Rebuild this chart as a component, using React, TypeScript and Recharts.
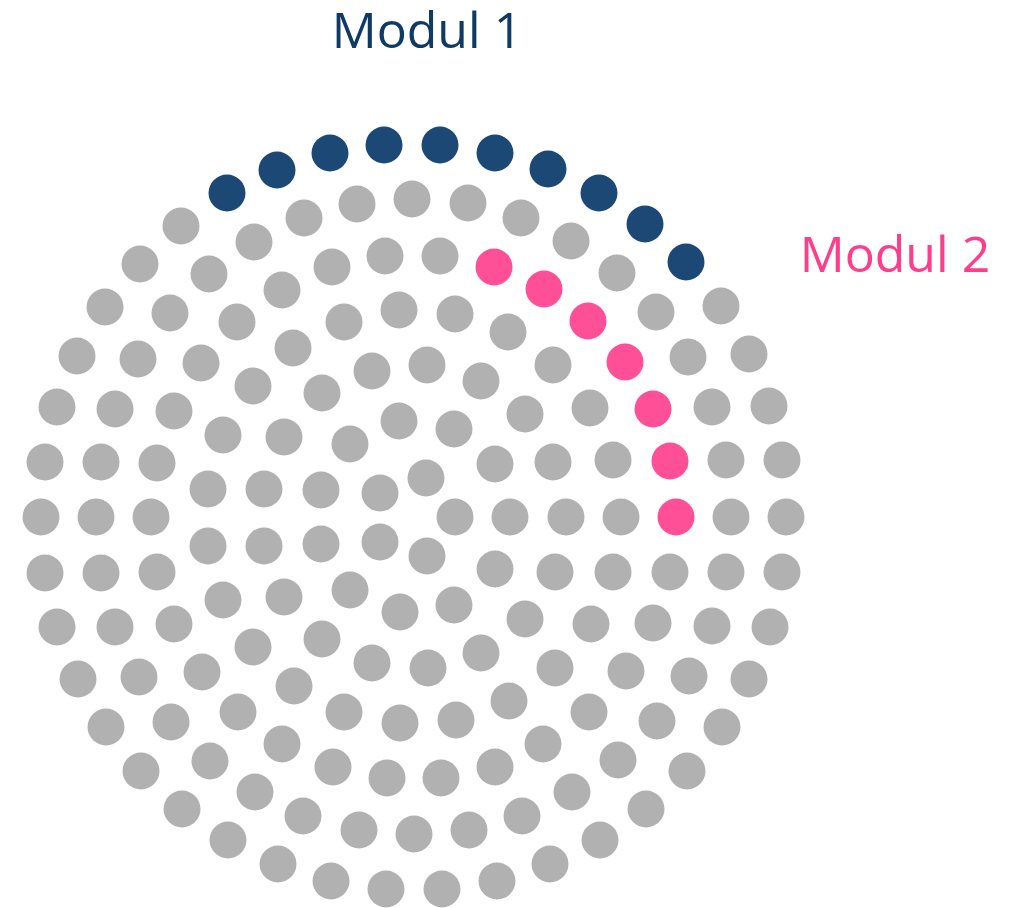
import { ScatterChart, Scatter, XAxis, YAxis, ReferenceDot } from 'recharts'

// dot centres (x to the right, y downward)
const modul1Dots = [
   [227, 193], [277, 170], [330, 153], [384, 145], [440, 145],
   [495, 153], [548, 169], [599, 193], [645, 224], [686, 262],
]

const modul2Dots = [
   [494, 267], [544, 289], [588, 321], [625, 362], [653, 409], [670, 461], [676, 517],
]

const otherDots = [
   // outer ring
   [41, 517], [45, 462], [57, 407], [77, 356], [105, 307], [140, 264], [181, 226],
   [721, 306], [749, 354], [769, 406], [782, 460], [786, 517], [782, 572], [770, 627],
   [749, 679], [722, 727], [687, 771], [646, 809], [600, 840], [550, 864], [497, 881],
   [442, 889], [386, 889], [331, 881], [278, 864], [228, 840], [182, 809], [141, 771],
   [106, 727], [78, 679], [57, 627], [45, 573],
   // ring 2
   [96, 517], [101, 462], [115, 409], [138, 359], [170, 313], [209, 274], [254, 242],
   [304, 218], [357, 204], [412, 199], [468, 203], [521, 218], [571, 241], [617, 273],
   [656, 312], [688, 357], [712, 407], [726, 460], [731, 517], [726, 572], [712, 626],
   [689, 676], [657, 721], [618, 760], [572, 792], [522, 816], [469, 830], [414, 834],
   [359, 830], [303, 816], [255, 792], [210, 761], [171, 722], [139, 677], [115, 627],
   [101, 573],
   // ring 3
   [151, 517], [157, 463], [174, 411], [201, 363], [237, 322], [282, 290], [332, 267],
   [385, 256], [440, 256], [670, 572], [653, 623], [626, 671], [589, 712], [543, 744],
   [495, 767], [441, 778], [387, 778], [333, 767], [282, 744], [238, 712], [202, 672],
   [174, 624], [157, 572],
   // ring 4
   [208, 489], [223, 435], [253, 386], [293, 348], [344, 322], [399, 310], [455, 314],
   [508, 332], [553, 365], [590, 408], [613, 460], [621, 517], [613, 572], [591, 624],
   [555, 668], [509, 701], [456, 720], [400, 723], [344, 712], [294, 686], [253, 647],
   [223, 600], [208, 546],
   // ring 5
   [264, 489], [284, 437], [322, 393], [372, 371], [427, 365], [481, 381], [525, 414],
   [553, 462], [566, 517], [555, 572], [525, 619], [481, 653], [428, 668], [372, 663],
   [322, 639], [284, 597], [264, 546],
   // ring 6
   [321, 490], [350, 444], [399, 421], [454, 429], [495, 464], [510, 517], [495, 569],
   [454, 605], [400, 612], [350, 590], [321, 544],
   // centre
   [380, 493], [426, 478], [455, 517], [427, 556], [380, 542],
]

const toPoints = (dots: number[][]) => dots.map(([x, y]) => ({ x, y }))

const dot = (fill: string) => (props: any) => (
   <circle cx={props.cx} cy={props.cy} r={18.5} fill={fill} />
)

export default function App() {
   return (
      <div style={{ position: 'absolute', left: 0, top: 0, background: '#fff' }}>
         <ScatterChart width={1010} height={908} margin={{ top: 0, right: 0, bottom: 0, left: 0 }}>
            <XAxis type="number" dataKey="x" domain={[0, 1010]} hide />
            <YAxis type="number" dataKey="y" domain={[0, 908]} reversed hide />
            <Scatter data={toPoints(otherDots)} shape={dot('#b0b1b0')} isAnimationActive={false} />
            <Scatter data={toPoints(modul1Dots)} shape={dot('#1c4876')} isAnimationActive={false} />
            <Scatter data={toPoints(modul2Dots)} shape={dot('#ff4f96')} isAnimationActive={false} />
            <ReferenceDot
               x={427}
               y={30}
               r={0}
               label={{ value: 'Modul 1', position: 'center', fill: '#0f3a66', fontSize: 50, fontFamily: 'Open Sans' }}
            />
            <ReferenceDot
               x={895}
               y={254}
               r={0}
               label={{ value: 'Modul 2', position: 'center', fill: '#ff3d8b', fontSize: 50, fontFamily: 'Open Sans' }}
            />
         </ScatterChart>
      </div>
   )
}
